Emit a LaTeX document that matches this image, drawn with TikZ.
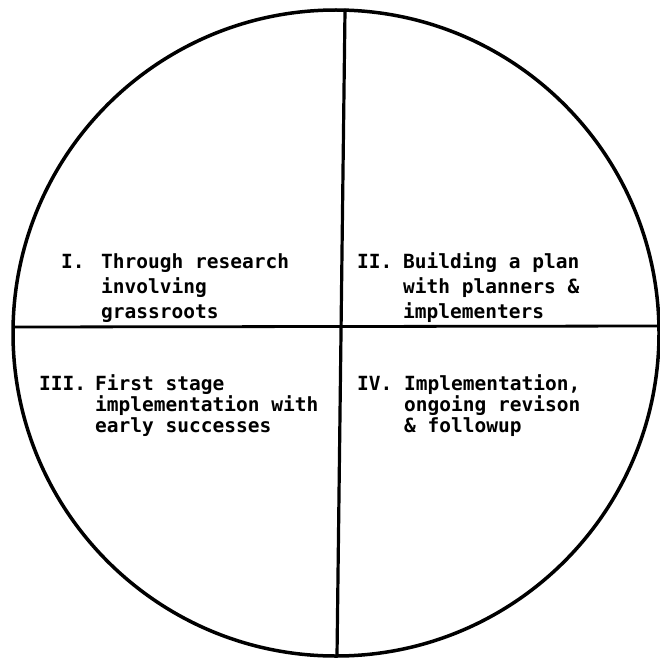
\documentclass[tikz,border=0pt]{standalone}
\usepackage{fontspec}
\newfontfamily\twfont{DejaVu Sans Mono}
\begin{document}
\begin{tikzpicture}[x=1pt,y=-1pt,
  txt/.style={anchor=base west,inner sep=0pt,font=\twfont\bfseries\fontsize{19.5}{25}\selectfont},
  ln/.style={line width=3.2pt,line cap=round}]
\useasboundingbox (0,0) rectangle (660,658);
\fill[white] (0,0) rectangle (660,658);
% circle
\coordinate (c) at (336,333);
\draw[line width=3.5pt] (c) circle[radius=323];
% dividing lines
\coordinate (vt) at (345,10);
\coordinate (vb) at (337,656);
\coordinate (hl) at (13,327);
\coordinate (hr) at (660,326);
\draw[ln] (vt) -- (vb);
\draw[line width=2.8pt] (hl) -- (hr);
% quadrant I
\node[txt] (l1) at (61,268) {I.};
\node[txt] (t1a) at (101,268) {Through research};
\node[txt] (t1b) at (101,293) {involving};
\node[txt] (t1c) at (101,318) {grassroots};
% quadrant II
\node[txt] (l2) at (357,268) {II.};
\node[txt] (t2a) at (403,268) {Building a plan};
\node[txt] (t2b) at (403,293) {with planners \&};
\node[txt] (t2c) at (403,318) {implementers};
% quadrant III
\node[txt] (l3) at (39,390) {III.};
\node[txt] (t3a) at (95,390) {First stage};
\node[txt] (t3b) at (95,411) {implementation with};
\node[txt] (t3c) at (95,432) {early successes};
% quadrant IV
\node[txt] (l4) at (357,390) {IV.};
\node[txt] (t4a) at (404,390) {Implementation,};
\node[txt] (t4b) at (404,411) {ongoing revison};
\node[txt] (t4c) at (404,432) {\& followup};
\end{tikzpicture}
\end{document}
